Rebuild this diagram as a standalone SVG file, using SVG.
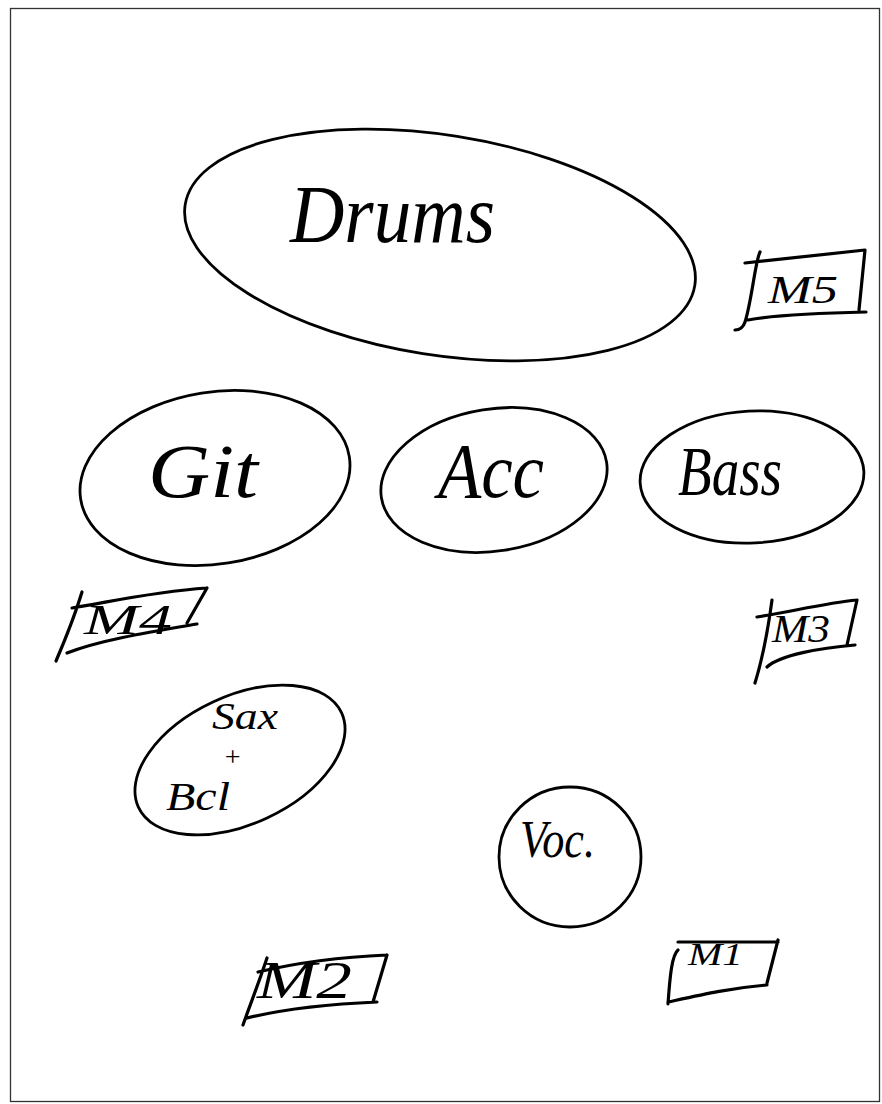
<svg xmlns="http://www.w3.org/2000/svg" width="882" height="1104" viewBox="0 0 882 1104">
<style>
.bg{fill:#ffffff}
.frame{fill:none;stroke:#333;stroke-width:1.3}
.ring{fill:none;stroke:#000;stroke-width:2.8}
.box{fill:none;stroke:#000;stroke-width:3.2;stroke-linecap:round;stroke-linejoin:round}
.hand{font-family:"Liberation Serif","DejaVu Serif",serif;font-style:italic;fill:#000}
</style>
<rect class="bg" x="0" y="0" width="882" height="1104"/>
<rect class="frame" x="10.5" y="8.5" width="869" height="1093"/>

<g id="drums">
<ellipse class="ring" cx="440" cy="245" rx="258" ry="110" transform="rotate(9 440 245)"/>
<text class="hand" x="290" y="242" font-size="82" textLength="205" lengthAdjust="spacingAndGlyphs">Drums</text>
</g>

<g id="git">
<ellipse class="ring" cx="215" cy="478" rx="136" ry="86" transform="rotate(-9 215 478)"/>
<text class="hand" x="148" y="497" font-size="76" textLength="110" lengthAdjust="spacingAndGlyphs">Git</text>
</g>

<g id="acc">
<ellipse class="ring" cx="494" cy="480" rx="114" ry="71" transform="rotate(-9 494 480)"/>
<text class="hand" x="438" y="497" font-size="78" textLength="106" lengthAdjust="spacingAndGlyphs">Acc</text>
</g>

<g id="bass">
<ellipse class="ring" cx="752" cy="477" rx="112" ry="66" transform="rotate(-3 752 477)"/>
<text class="hand" x="678" y="495" font-size="70" textLength="104" lengthAdjust="spacingAndGlyphs">Bass</text>
</g>

<g id="sax">
<ellipse class="ring" cx="240" cy="760" rx="112" ry="64" transform="rotate(-25 240 760)"/>
<text class="hand" x="212" y="729" font-size="38" textLength="66" lengthAdjust="spacingAndGlyphs">Sax</text>
<text class="hand" x="223" y="766" font-size="28">+</text>
<text class="hand" x="166" y="810" font-size="40" textLength="64" lengthAdjust="spacingAndGlyphs">Bcl</text>
</g>

<g id="voc">
<ellipse class="ring" cx="570" cy="857" rx="71" ry="70"/>
<text class="hand" x="520" y="857" font-size="52" textLength="75" lengthAdjust="spacingAndGlyphs">Voc.</text>
</g>

<g id="m5">
<path class="box" d="M745,263 L865,250 M865,250 L859,310 M866,312 C820,313 775,315 748,320 M760,252 C755,262 752,300 745,322 C743,328 739,330 735,330"/>
<text class="hand" x="768" y="303" font-size="40" textLength="70" lengthAdjust="spacingAndGlyphs">M5</text>
</g>

<g id="m4">
<path class="box" d="M72,608 C110,602 150,592 207,588 M207,588 L187,623 M197,624 C150,632 100,640 67,653 M82,592 C75,615 65,640 56,661"/>
<text class="hand" x="84" y="634" font-size="42" textLength="88" lengthAdjust="spacingAndGlyphs">M4</text>
</g>

<g id="m3">
<path class="box" d="M757,617 C790,612 825,603 857,600 M857,600 L847,645 M855,645 C820,648 780,655 767,667 M772,600 C768,630 762,660 755,683"/>
<text class="hand" x="772" y="642" font-size="40" textLength="58" lengthAdjust="spacingAndGlyphs">M3</text>
</g>

<g id="m2">
<path class="box" d="M258,972 C300,962 340,957 387,955 M387,955 L373,1002 M377,1002 C330,1004 280,1010 247,1018 M267,958 C258,985 250,1005 243,1025"/>
<text class="hand" x="257" y="998" font-size="52" textLength="95" lengthAdjust="spacingAndGlyphs">M2</text>
</g>

<g id="m1">
<path class="box" d="M678,942 L778,942 M778,940 L767,983 M767,985 C730,988 700,995 668,1002 M678,950 C672,955 670,975 668,1004"/>
<text class="hand" x="688" y="965" font-size="32" textLength="55" lengthAdjust="spacingAndGlyphs">M1</text>
</g>
</svg>
